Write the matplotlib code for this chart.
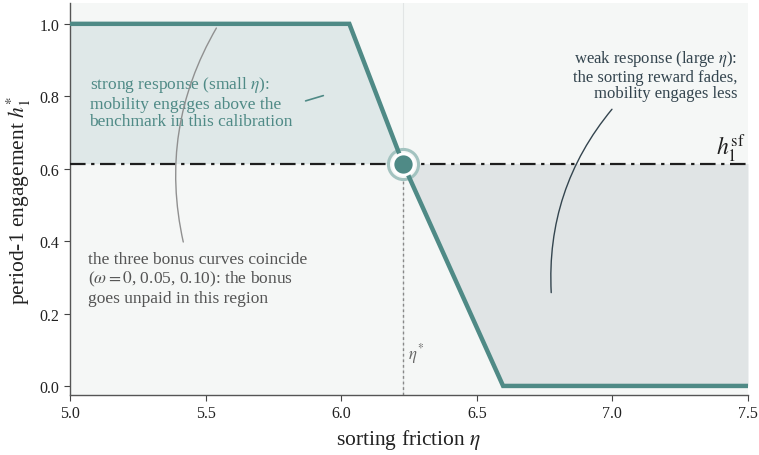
import matplotlib.pyplot as plt
import numpy as np

plt.rcParams['font.family'] = ['Liberation Serif', 'DejaVu Serif']
plt.rcParams['mathtext.fontset'] = 'stix'

# curve (all three bonus curves coincide)
eta = [5.0, 6.03, 6.228, 6.597, 7.5]
h1 = [1.0, 1.0, 0.614, 0.0, 0.0]
h_sf = 0.614
eta_star = 6.228

xticks = [5.0, 5.5, 6.0, 6.5, 7.0, 7.5]
yticks = [0.0, 0.2, 0.4, 0.6, 0.8, 1.0]

teal = '#4f8a86'
slate = '#34454f'
bg = '#f5f7f6'

fig = plt.figure(figsize=(7.59, 4.56), dpi=100)
ax = fig.add_axes([0.0922, 0.1316, 0.8933, 0.860])
ax.set_facecolor(bg)

x = np.array(eta)
y = np.array(h1)
xf = np.linspace(5.0, 7.5, 1001)
yf = np.interp(xf, x, y)
ax.fill_between(xf, yf, h_sf, where=(xf <= eta_star), color='#dfe8e8', lw=0, zorder=1)
ax.fill_between(xf, yf, h_sf, where=(xf >= eta_star), color='#e0e4e5', lw=0, zorder=1)

ax.axhline(h_sf, color='#1e1e1e', lw=1.6, ls=(0, (7, 2.5, 1.5, 2.5)), zorder=3)
ax.axvline(eta_star, color='#e2e5e5', lw=0.8, zorder=0.5)
ax.plot([eta_star, eta_star], [-0.025, h_sf], color='#888888', lw=1.0, ls=(0, (2, 2)), zorder=2)

ax.scatter([eta_star], [h_sf], s=470, facecolor=bg, edgecolor='#a3c3c0', lw=2.2, zorder=3.5)
ax.plot(x, y, color=teal, lw=3.2, solid_joinstyle='miter', zorder=4)
ax.scatter([eta_star], [h_sf], s=230, facecolor=teal, edgecolor='white', lw=2.0, zorder=6)

ax.text(7.49, 0.612, r'$h_1^{\mathrm{sf}}$', fontsize=17, ha='right', va='bottom', color='#1e1e1e')
ax.text(eta_star + 0.02, 0.09, r'$\eta^{*}$', fontsize=12, color='#666666', ha='left', va='center')

ax.text(5.072, 0.785, 'strong response (small $\\eta$):\nmobility engages above the\nbenchmark in this calibration',
        fontsize=12.5, color=teal, ha='left', va='center', linespacing=1.13, zorder=7)
ax.annotate('', xy=(5.944, 0.804), xytext=(5.859, 0.785),
            arrowprops=dict(arrowstyle='-', color=teal, lw=1.2), zorder=7)

ax.text(5.065, 0.298, 'the three bonus curves coincide\n($\\omega = 0$, 0.05, 0.10): the bonus\ngoes unpaid in this region',
        fontsize=12.5, color='#555555', ha='left', va='center', linespacing=1.15, zorder=7)
ax.annotate('', xy=(5.545, 0.995), xytext=(5.42, 0.39),
            arrowprops=dict(arrowstyle='-', color='#909090', lw=1.0,
                            connectionstyle='arc3,rad=-0.2'), zorder=7)

ax.text(7.46, 0.86, 'weak response (large $\\eta$):\nthe sorting reward fades,\nmobility engages less',
        fontsize=12, color=slate, ha='right', va='center', linespacing=1.08, zorder=7)
ax.annotate('', xy=(6.775, 0.25), xytext=(7.005, 0.77),
            arrowprops=dict(arrowstyle='-', color=slate, lw=1.0,
                            connectionstyle='arc3,rad=0.2'), zorder=7)

ax.set_xlim(5.0, 7.5)
ax.set_ylim(-0.025, 1.058)
ax.set_xticks(xticks)
ax.set_yticks(yticks)
ax.set_xticklabels(['%.1f' % t for t in xticks])
ax.set_yticklabels(['%.1f' % t for t in yticks])
ax.tick_params(labelsize=11.5, length=4, color='#444444', labelcolor='#222222')
for s in ['top', 'right']:
    ax.spines[s].set_visible(False)
for s in ['left', 'bottom']:
    ax.spines[s].set_color('#555555')
    ax.spines[s].set_linewidth(1.0)

ax.set_xlabel('sorting friction $\\eta$', fontsize=15.5, color='#222222', labelpad=4)
ax.set_ylabel('period-1 engagement $h_1^{*}$', fontsize=15.5, color='#222222', labelpad=5)

fig.savefig('out.png', dpi=100)
